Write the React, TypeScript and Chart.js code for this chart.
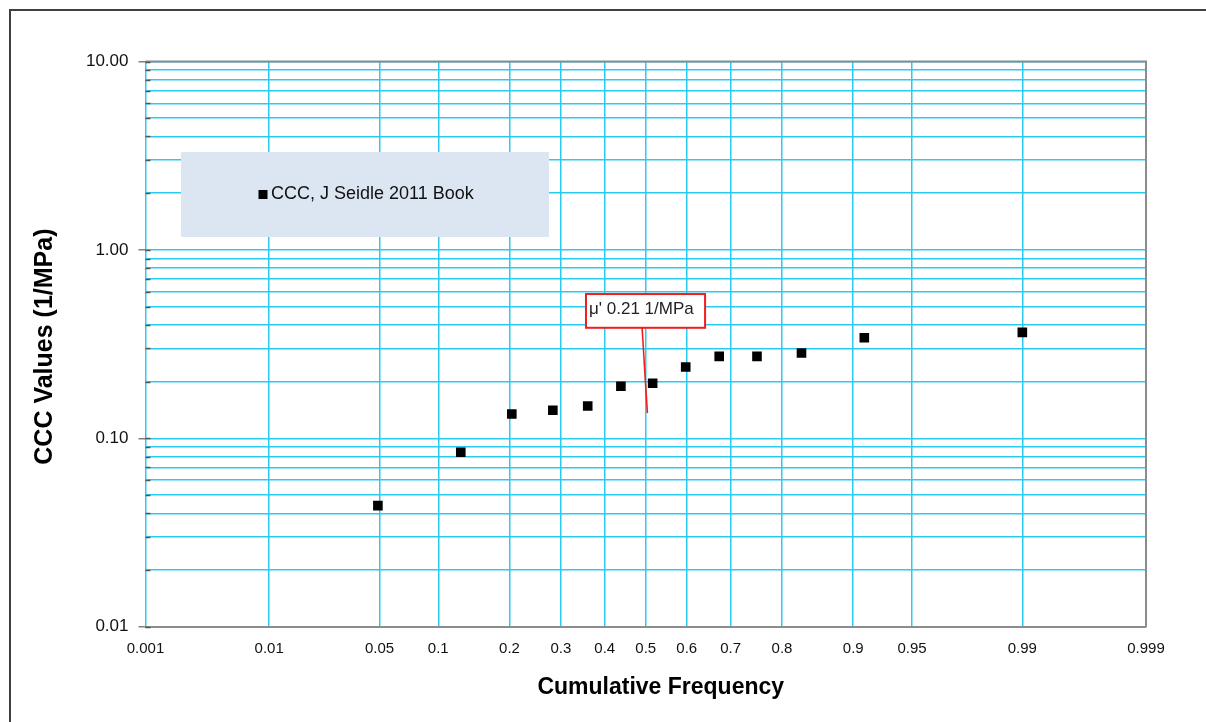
import React, { useEffect, useRef } from "react";
import { Chart, registerables } from "chart.js";

Chart.register(...registerables);

// ---------------- data ----------------
const seriesLabel = "CCC, J Seidle 2011 Book";
const cumulativeFrequency = [0.049, 0.1266, 0.204, 0.283, 0.36, 0.439, 0.517, 0.5975, 0.675, 0.754, 0.832, 0.9115, 0.99];
const cccValues = [0.0439, 0.0843, 0.1346, 0.1408, 0.1484, 0.1888, 0.1959, 0.239, 0.2723, 0.2723, 0.2836, 0.342, 0.365];

const xTickProbabilities = [0.001, 0.01, 0.05, 0.1, 0.2, 0.3, 0.4, 0.5, 0.6, 0.7, 0.8, 0.9, 0.95, 0.99, 0.999];
const xTickLabels = ["0.001", "0.01", "0.05", "0.1", "0.2", "0.3", "0.4", "0.5", "0.6", "0.7", "0.8", "0.9", "0.95", "0.99", "0.999"];
const yDecades = [0.01, 0.1, 1, 10];
const yMinorMultipliers = [2, 3, 4, 5, 6, 7, 8, 9];

const xTitle = "Cumulative Frequency";
const yTitle = "CCC Values (1/MPa)";
const annotationText = "μ' 0.21 1/MPa";

// annotation anchor (data coordinates: probability, value)
const annotationBox = { p1: 0.356, v1: 0.583, p2: 0.643, v2: 0.386 };
const annotationLeader = { pBase: 0.491, pTip: 0.504, vTip: 0.136 };

// ---------------- helpers ----------------
function probit(p: number): number {
  const a = [-3.969683028665376e1, 2.209460984245205e2, -2.759285104469687e2, 1.38357751867269e2, -3.066479806614716e1, 2.506628277459239];
  const b = [-5.447609879822406e1, 1.615858368580409e2, -1.556989798598866e2, 6.680131188771972e1, -1.328068155288572e1];
  const c = [-7.784894002430293e-3, -3.223964580411365e-1, -2.400758277161838, -2.549671348122833, 4.374664141464968, 2.938163982698783];
  const d = [7.784695709041462e-3, 3.224671290700398e-1, 2.445134137142996, 3.754408661907416];
  const pLow = 0.02425;
  const pHigh = 1 - pLow;
  if (p < pLow) {
    const q = Math.sqrt(-2 * Math.log(p));
    return (((((c[0] * q + c[1]) * q + c[2]) * q + c[3]) * q + c[4]) * q + c[5]) / ((((d[0] * q + d[1]) * q + d[2]) * q + d[3]) * q + 1);
  }
  if (p <= pHigh) {
    const q = p - 0.5;
    const r = q * q;
    return ((((((a[0] * r + a[1]) * r + a[2]) * r + a[3]) * r + a[4]) * r + a[5]) * q) / (((((b[0] * r + b[1]) * r + b[2]) * r + b[3]) * r + b[4]) * r + 1);
  }
  const q = Math.sqrt(-2 * Math.log(1 - p));
  return -(((((c[0] * q + c[1]) * q + c[2]) * q + c[3]) * q + c[4]) * q + c[5]) / ((((d[0] * q + d[1]) * q + d[2]) * q + d[3]) * q + 1);
}

const yTickValues: number[] = [];
yDecades.forEach((d, i) => {
  yTickValues.push(d);
  if (i < yDecades.length - 1) yMinorMultipliers.forEach((m) => yTickValues.push(m * d));
});

const isDecade = (v: any) => typeof v === "number" && v > 0 && Math.abs(Math.log10(v) - Math.round(Math.log10(v))) < 1e-6;

const FONT = "'Liberation Sans', Arial, sans-serif";
const GRID = "#2ACBF3";

const overlayPlugin = {
  id: "overlay",
  afterDraw(chart: any) {
    const { ctx, chartArea: ca, scales } = chart;
    const xs = scales.x;
    const ys = scales.y;
    ctx.save();

    // frame top/right
    ctx.strokeStyle = "#8c8c8c";
    ctx.lineWidth = 2;
    ctx.beginPath();
    ctx.moveTo(ca.left, ca.top);
    ctx.lineTo(ca.right, ca.top);
    ctx.lineTo(ca.right, ca.bottom);
    ctx.stroke();

    // inner minor ticks on y axis
    ctx.strokeStyle = "#555";
    ctx.lineWidth = 1.5;
    yTickValues.forEach((v) => {
      const y = Math.round(ys.getPixelForValue(v)) + 0.5;
      ctx.beginPath();
      ctx.moveTo(ca.left, y);
      ctx.lineTo(ca.left + 5, y);
      ctx.stroke();
    });

    // legend box
    const lx = ca.left + 35.5;
    const ly = ca.top + 90.5;
    const lw = 368;
    const lh = 85;
    ctx.fillStyle = "#DCE6F2";
    ctx.fillRect(lx, ly, lw, lh);
    const cy = ly + lh / 2;
    ctx.fillStyle = "#000";
    ctx.fillRect(lx + 77.5, cy - 4.5, 9, 9);
    ctx.font = `18px ${FONT}`;
    ctx.fillStyle = "#111";
    ctx.textAlign = "left";
    ctx.textBaseline = "middle";
    ctx.fillText(chart.data.datasets[0].label, lx + 90, cy);

    // annotation callout
    const bx1 = xs.getPixelForValue(probit(annotationBox.p1));
    const by1 = ys.getPixelForValue(annotationBox.v1);
    const bx2 = xs.getPixelForValue(probit(annotationBox.p2));
    const by2 = ys.getPixelForValue(annotationBox.v2);
    const baseX = xs.getPixelForValue(probit(annotationLeader.pBase));
    const tipX = xs.getPixelForValue(probit(annotationLeader.pTip));
    const tipY = ys.getPixelForValue(annotationLeader.vTip);
    ctx.strokeStyle = "#F21D1D";
    ctx.lineWidth = 1.6;
    ctx.beginPath();
    ctx.moveTo(baseX, by2);
    ctx.lineTo(tipX, tipY);
    ctx.stroke();
    ctx.fillStyle = "#fff";
    ctx.fillRect(bx1, by1, bx2 - bx1, by2 - by1);
    ctx.lineWidth = 2;
    ctx.strokeRect(bx1, by1, bx2 - bx1, by2 - by1);
    ctx.fillStyle = "#222";
    ctx.font = `17px ${FONT}`;
    ctx.textBaseline = "middle";
    ctx.fillText(annotationText, bx1 + 3, by1 + 15);

    // axis titles
    ctx.fillStyle = "#000";
    ctx.font = `bold 23px ${FONT}`;
    ctx.textAlign = "center";
    ctx.textBaseline = "alphabetic";
    ctx.fillText(xTitle, (ca.left + ca.right) / 2 + 15, 694);

    ctx.save();
    ctx.translate(52, (ca.top + ca.bottom) / 2 + 2.5);
    ctx.rotate(-Math.PI / 2);
    ctx.font = `bold 25px ${FONT}`;
    ctx.textAlign = "center";
    ctx.textBaseline = "alphabetic";
    ctx.fillText(yTitle, 0, 0);
    ctx.restore();

    ctx.restore();
  },
};

export default function App() {
  const canvasRef = useRef<HTMLCanvasElement | null>(null);

  useEffect(() => {
    if (!canvasRef.current) return;
    Chart.defaults.font.family = FONT;
    const xMin = probit(xTickProbabilities[0]);
    const xMax = probit(xTickProbabilities[xTickProbabilities.length - 1]);
    const chart = new Chart(canvasRef.current, {
      type: "scatter",
      data: {
        datasets: [
          {
            label: seriesLabel,
            data: cumulativeFrequency.map((p, i) => ({ x: probit(p), y: cccValues[i] })),
            pointStyle: "rect",
            pointRadius: 6.8,
            pointHoverRadius: 6.8,
            backgroundColor: "#000",
            borderColor: "#000",
            borderWidth: 0,
            showLine: false,
          },
        ],
      },
      options: {
        animation: false,
        responsive: false,
        devicePixelRatio: 1,
        layout: { padding: { left: 10, top: 61.5, right: 60, bottom: 0 } },
        plugins: {
          legend: { display: false },
          tooltip: { enabled: false },
          title: { display: false },
        },
        scales: {
          x: {
            type: "linear",
            min: xMin,
            max: xMax,
            afterBuildTicks: (s: any) => {
              s.ticks = xTickProbabilities.map((p) => ({ value: probit(p) }));
            },
            afterFit: (s: any) => {
              s.height = 95.3;
            },
            ticks: {
              autoSkip: false,
              maxRotation: 0,
              minRotation: 0,
              padding: 13,
              color: "#111",
              font: { family: FONT, size: 15 },
              callback: (_v: any, i: number) => xTickLabels[i],
            },
            grid: { color: GRID, lineWidth: 1.5, drawTicks: false },
            border: { display: true, color: "#8c8c8c", width: 2 },
            title: { display: false },
          },
          y: {
            type: "logarithmic",
            min: 0.01,
            max: 10,
            afterBuildTicks: (s: any) => {
              s.ticks = yTickValues.map((v) => ({ value: v }));
            },
            afterFit: (s: any) => {
              s.width = 135.5;
            },
            ticks: {
              autoSkip: false,
              padding: 10,
              color: "#111",
              font: { family: FONT, size: 17 },
              callback: (v: any) => (isDecade(v) ? Number(v).toFixed(2) : ""),
            },
            grid: {
              color: GRID,
              lineWidth: 1.5,
              tickLength: 7,
              tickColor: (c: any) => (c.tick && isDecade(c.tick.value) ? "#808080" : "rgba(0,0,0,0)"),
            },
            border: { display: false },
            title: { display: false },
          },
        },
      },
      plugins: [overlayPlugin],
    } as any);
    return () => chart.destroy();
  }, []);

  return (
    <div style={{ position: "fixed", left: 0, top: 0, width: 1206, height: 722, overflow: "hidden", background: "#fff" }}>
      <div
        style={{
          position: "absolute",
          left: 9,
          top: 9,
          width: 1300,
          height: 800,
          borderLeft: "2px solid #404040",
          borderTop: "2px solid #404040",
        }}
      />
      <canvas
        ref={canvasRef}
        width={1206}
        height={722}
        style={{ position: "absolute", left: 0, top: 0, width: 1206, height: 722 }}
      />
    </div>
  );
}
